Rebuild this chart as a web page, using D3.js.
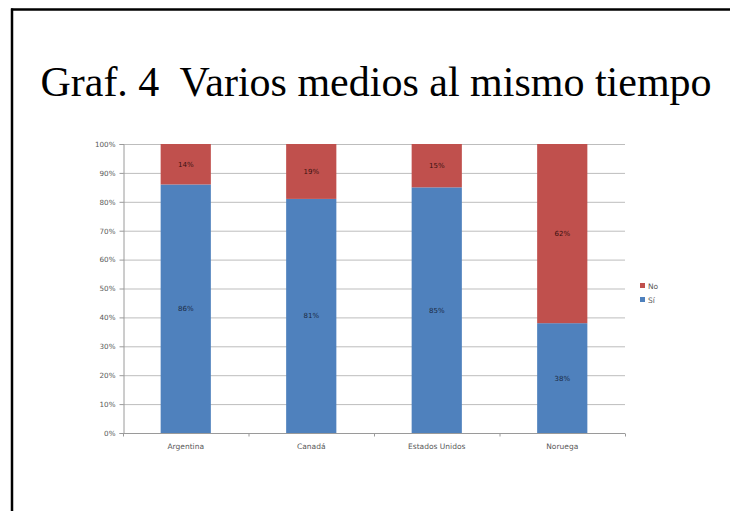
<!DOCTYPE html>
<html>
<head>
<meta charset="utf-8">
<script src="https://cdn.jsdelivr.net/npm/d3@7"></script>
<style>
  html, body { margin: 0; padding: 0; background: #fff; }
  svg { display: block; }
</style>
</head>
<body>
<svg id="chart" width="730" height="511"></svg>
<script>
// Share of respondents using several media at the same time, by country
const countries = ["Argentina", "Canadá", "Estados Unidos", "Noruega"];
const siValues = [86, 81, 85, 38];
const noValues = [14, 19, 15, 62];
const seriesNames = ["Sí", "No"];
const yTicks = [0, 10, 20, 30, 40, 50, 60, 70, 80, 90, 100];
const title = "Graf. 4  Varios medios al mismo tiempo";

const colors = { "Sí": "#4f81bd", "No": "#c0504d" };
const labelFont = "'DejaVu Sans', sans-serif";

const svg = d3.select("#chart");

// slide frame
svg.append("line").attr("x1", 11).attr("x2", 730).attr("y1", 9.5).attr("y2", 9.5)
  .attr("stroke", "#000").attr("stroke-width", 2.5);
svg.append("line").attr("x1", 12).attr("x2", 12).attr("y1", 8.5).attr("y2", 511)
  .attr("stroke", "#000").attr("stroke-width", 2.5);

svg.append("text")
  .attr("x", 376).attr("y", 96)
  .attr("text-anchor", "middle")
  .attr("xml:space", "preserve")
  .style("white-space", "pre")
  .attr("font-family", "'Liberation Serif', 'Times New Roman', serif")
  .attr("font-size", 42)
  .attr("fill", "#000")
  .text(title);

const plot = { left: 123, right: 625, top: 144, bottom: 433 };

const x = d3.scaleBand().domain(countries).range([plot.left, plot.right]).paddingInner(0.6).paddingOuter(0.3);
const y = d3.scaleLinear().domain([0, 100]).range([plot.bottom, plot.top]);

// gridlines
svg.append("g")
  .selectAll("line").data(yTicks.filter(d => d > 0)).join("line")
  .attr("x1", plot.left).attr("x2", plot.right)
  .attr("y1", d => y(d) + 0.5).attr("y2", d => y(d) + 0.5)
  .attr("stroke", "#bdbdbd").attr("stroke-width", 1);

// y axis
const yAxis = svg.append("g").attr("transform", `translate(${plot.left + 0.5},0)`)
  .call(d3.axisLeft(y).tickValues(yTicks).tickFormat(d => d + "%").tickSize(4).tickPadding(4));
yAxis.select(".domain").attr("stroke", "#9a9a9a");
yAxis.selectAll(".tick line").attr("stroke", "#9a9a9a");
yAxis.selectAll("text").attr("font-family", labelFont).attr("font-size", 7.2).attr("fill", "#595959");

// x axis
const band = (plot.right - plot.left) / countries.length;
const xAxisG = svg.append("g").attr("transform", `translate(0,${plot.bottom + 0.5})`);
xAxisG.append("line").attr("x1", plot.left).attr("x2", plot.right).attr("stroke", "#9a9a9a");
xAxisG.selectAll("line.tk").data(d3.range(countries.length + 1)).join("line").attr("class", "tk")
  .attr("x1", i => plot.left + i * band + 0.5).attr("x2", i => plot.left + i * band + 0.5)
  .attr("y1", 0).attr("y2", 3).attr("stroke", "#9a9a9a");
xAxisG.selectAll("text").data(countries).join("text")
  .attr("x", d => x(d) + x.bandwidth() / 2).attr("y", 15)
  .attr("text-anchor", "middle")
  .attr("font-family", labelFont).attr("font-size", 7.5).attr("fill", "#595959")
  .text(d => d);

// stacked bars
const rows = countries.map((c, i) => ({ country: c, "Sí": siValues[i], "No": noValues[i] }));
const stacked = d3.stack().keys(seriesNames)(rows);

const layers = svg.append("g").selectAll("g").data(stacked).join("g")
  .attr("fill", d => colors[d.key]);
layers.selectAll("rect").data(d => d).join("rect")
  .attr("x", d => x(d.data.country))
  .attr("width", x.bandwidth())
  .attr("y", d => y(d[1]))
  .attr("height", d => y(d[0]) - y(d[1]));

layers.selectAll("text").data(d => d.map(v => ({ v, key: d.key }))).join("text")
  .attr("x", d => x(d.v.data.country) + x.bandwidth() / 2)
  .attr("y", d => y((d.v[0] + d.v[1]) / 2) + 2.5)
  .attr("text-anchor", "middle")
  .attr("font-family", labelFont).attr("font-size", 7)
  .attr("fill", d => d.key === "No" ? "#3a1010" : "#1a2a44")
  .text(d => d.v.data[d.key] + "%");

// legend
const legend = svg.append("g");
["No", "Sí"].forEach((k, i) => {
  const ly = 286 + i * 14;
  legend.append("rect").attr("x", 640).attr("y", ly - 3).attr("width", 5).attr("height", 5).attr("fill", colors[k]);
  legend.append("text").attr("x", 648).attr("y", ly + 2.5)
    .attr("font-family", labelFont).attr("font-size", 7.5).attr("fill", "#595959")
    .text(k);
});
</script>
</body>
</html>
